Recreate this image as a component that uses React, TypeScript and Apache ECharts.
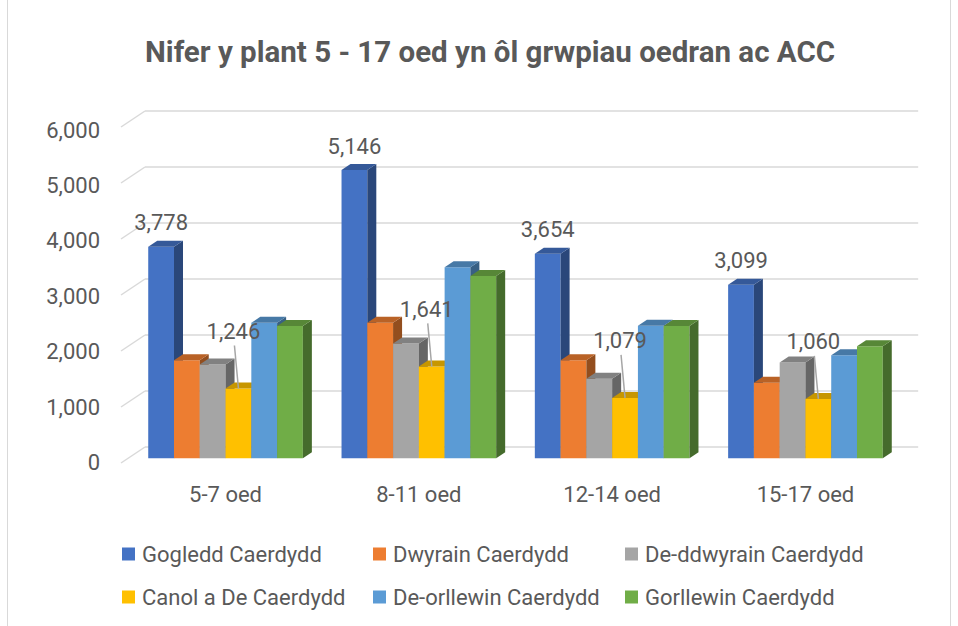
import React, { useEffect, useRef } from "react";
import * as echarts from "echarts";

const titleText = "Nifer y plant 5 - 17 oed yn ôl grwpiau oedran ac ACC";
const categories = ["5-7 oed", "8-11 oed", "12-14 oed", "15-17 oed"];
const seriesNames = [
  "Gogledd Caerdydd",
  "Dwyrain Caerdydd",
  "De-ddwyrain Caerdydd",
  "Canol a De Caerdydd",
  "De-orllewin Caerdydd",
  "Gorllewin Caerdydd",
];
const gogledd = [3778, 5146, 3654, 3099];
const dwyrain = [1753, 2420, 1752, 1349];
const deDdwyrain = [1676, 2052, 1420, 1711];
const canolADe = [1246, 1641, 1079, 1060];
const deOrllewin = [2420, 3411, 2368, 1841];
const gorllewin = [2361, 3256, 2362, 2002];
const yTicks = [0, 1000, 2000, 3000, 4000, 5000, 6000];

const allValues = [gogledd, dwyrain, deDdwyrain, canolADe, deOrllewin, gorllewin];
const colors = ["#4472C4", "#ED7D31", "#A5A5A5", "#FFC000", "#5B9BD5", "#70AD47"];

const FONT = "Roboto";
const TEXT = "#595959";
const DX = 9;
const DY = 6;

function shade(hex: string, f: number) {
  const n = parseInt(hex.slice(1), 16);
  const r = Math.round(((n >> 16) & 255) * f);
  const g = Math.round(((n >> 8) & 255) * f);
  const b = Math.round((n & 255) * f);
  return `rgb(${r},${g},${b})`;
}

function barGeom(api: any, i: number) {
  const cat = api.value(0);
  const val = api.value(1);
  const c = api.coord([cat, val]);
  const base = api.coord([cat, 0]);
  const band = api.size([1, 0])[0];
  const groupW = band * 0.8;
  const bw = groupW / 6;
  const x0 = c[0] - groupW / 2 + i * bw;
  return { x0, bw, top: c[1], bot: base[1], val };
}

function makeBarRender(i: number) {
  const color = colors[i];
  const side = shade(color, 0.62);
  const topC = shade(color, 0.78);
  return (_params: any, api: any) => {
    const { x0, bw, top, bot } = barGeom(api, i);
    return {
      type: "group",
      children: [
        {
          type: "rect",
          shape: { x: x0, y: top, width: bw, height: bot - top },
          style: { fill: color },
        },
        {
          type: "polygon",
          shape: {
            points: [
              [x0 + bw, top],
              [x0 + bw + DX, top - DY],
              [x0 + bw + DX, bot - DY],
              [x0 + bw, bot],
            ],
          },
          style: { fill: side },
        },
        {
          type: "polygon",
          shape: {
            points: [
              [x0, top],
              [x0 + DX, top - DY],
              [x0 + bw + DX, top - DY],
              [x0 + bw, top],
            ],
          },
          style: { fill: topC },
        },
      ],
    };
  };
}

function makeLabelRender(i: number, withLeader: boolean) {
  return (_params: any, api: any) => {
    const { x0, bw, top, val } = barGeom(api, i);
    const cx = x0 + bw / 2;
    const txt = Number(val).toLocaleString("en-US");
    if (!withLeader) {
      return {
        type: "text",
        x: cx,
        y: top - 24,
        style: {
          text: txt,
          fill: TEXT,
          font: `22px ${FONT}`,
          textAlign: "center",
          textVerticalAlign: "middle",
        },
      };
    }
    return {
      type: "group",
      children: [
        {
          type: "line",
          shape: { x1: cx - 4, y1: top - 43, x2: cx, y2: top },
          style: { stroke: "#A6A6A6", lineWidth: 1.5 },
        },
        {
          type: "text",
          x: cx - 5,
          y: top - 57,
          style: {
            text: txt,
            fill: TEXT,
            font: `22px ${FONT}`,
            textAlign: "center",
            textVerticalAlign: "middle",
          },
        },
      ],
    };
  };
}

export default function App() {
  const ref = useRef<HTMLDivElement>(null);

  useEffect(() => {
    if (!ref.current) return;
    const chart = echarts.init(ref.current, null, { renderer: "svg" });

    const barSeries = allValues.map((vals, i) => ({
      type: "custom",
      name: seriesNames[i],
      xAxisIndex: 0,
      yAxisIndex: 0,
      z: 3,
      itemStyle: { color: colors[i] },
      renderItem: makeBarRender(i),
      encode: { x: 0, y: 1 },
      data: vals.map((v, k) => [k, v]),
    }));

    const labelSeries = [
      {
        type: "custom",
        name: "labels-gogledd",
        xAxisIndex: 0,
        yAxisIndex: 0,
        z: 6,
        renderItem: makeLabelRender(0, false),
        encode: { x: 0, y: 1 },
        data: gogledd.map((v, k) => [k, v]),
      },
      {
        type: "custom",
        name: "labels-canol",
        xAxisIndex: 0,
        yAxisIndex: 0,
        z: 6,
        renderItem: makeLabelRender(3, true),
        encode: { x: 0, y: 1 },
        data: canolADe.map((v, k) => [k, v]),
      },
    ];

    const diagonalSeries = {
      type: "custom",
      name: "wall-diagonals",
      xAxisIndex: 1,
      yAxisIndex: 1,
      z: 1,
      renderItem: (_p: any, api: any) => {
        const p = api.coord([0, api.value(0)]);
        return {
          type: "line",
          shape: { x1: p[0] - 24, y1: p[1] + 16, x2: p[0], y2: p[1] },
          style: { stroke: "#D9D9D9", lineWidth: 1.5 },
        };
      },
      encode: { y: 0 },
      data: yTicks.map((v) => [v]),
    };

    const legendCols = [122, 373, 625];
    const legendRows = [543, 586];
    const legends = seriesNames.map((name, i) => ({
      left: legendCols[i % 3],
      top: legendRows[Math.floor(i / 3)],
      padding: 0,
      icon: "rect",
      itemWidth: 13,
      itemHeight: 13,
      textStyle: { color: TEXT, fontSize: 22, fontFamily: FONT, padding: [0, 0, 0, 2] },
      data: [{ name, itemStyle: { color: colors[i] } }],
      selectedMode: false,
    }));

    chart.setOption({
      animation: false,
      backgroundColor: "#ffffff",
      legend: legends,
      graphic: [
        {
          type: "rect",
          shape: { x: 7.5, y: -2, width: 943, height: 640 },
          style: { fill: "none", stroke: "#D9D9D9", lineWidth: 1 },
          silent: true,
        },
        {
          type: "text",
          x: 490,
          y: 52,
          style: {
            text: titleText,
            fill: TEXT,
            font: `bold 29.5px ${FONT}`,
            textAlign: "center",
            textVerticalAlign: "middle",
          },
        },
      ],
      grid: [
        { left: 128.9, width: 773.2, top: 122.3, height: 336, containLabel: false },
        { left: 145, width: 773.2, top: 111, height: 336, containLabel: false },
        { left: 120, width: 20, top: 130, height: 332.5, containLabel: false },
      ],
      xAxis: [
        {
          type: "category",
          gridIndex: 0,
          data: categories,
          axisLine: { show: false },
          axisTick: { show: false },
          splitLine: { show: false },
          axisLabel: {
            color: TEXT,
            fontSize: 22,
            fontFamily: FONT,
            verticalAlign: "middle",
            margin: 36,
          },
        },
        { type: "value", gridIndex: 1, min: 0, max: 1, show: false },
        { type: "value", gridIndex: 2, min: 0, max: 1, show: false },
      ],
      yAxis: [
        { type: "value", gridIndex: 0, min: 0, max: 6000, interval: 1000, show: false },
        {
          type: "value",
          gridIndex: 1,
          min: 0,
          max: 6000,
          interval: 1000,
          axisLine: { show: false },
          axisTick: { show: false },
          axisLabel: { show: false },
          splitLine: { show: true, lineStyle: { color: "#D9D9D9", width: 1.5 } },
        },
        {
          type: "value",
          gridIndex: 2,
          min: 0,
          max: 6000,
          interval: 1000,
          axisLine: { show: false },
          axisTick: { show: false },
          splitLine: { show: false },
          axisLabel: {
            color: TEXT,
            fontSize: 22,
            fontFamily: FONT,
            margin: 20,
            formatter: (v: number) => v.toLocaleString("en-US"),
          },
        },
      ],
      series: [diagonalSeries, ...barSeries, ...labelSeries],
    });

    return () => chart.dispose();
  }, []);

  return (
    <div
      ref={ref}
      style={{ position: "fixed", left: 0, top: 0, width: 958, height: 626 }}
    />
  );
}
